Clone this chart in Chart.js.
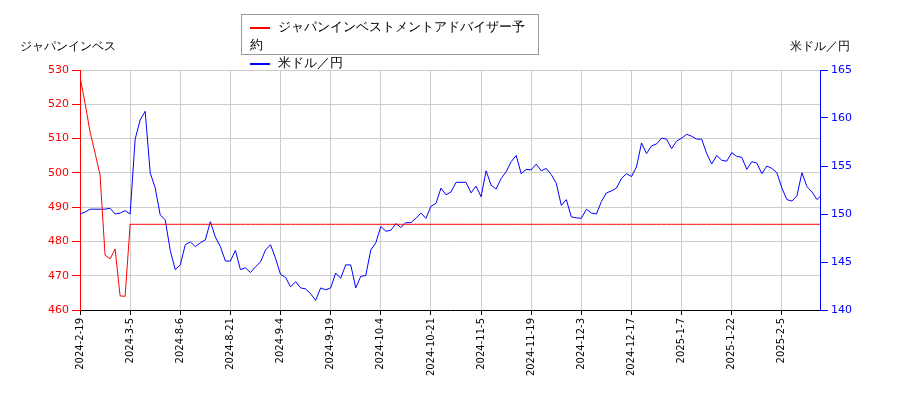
<!DOCTYPE html>
<html><head><meta charset="utf-8">
<script src="https://cdn.jsdelivr.net/npm/chart.js@4"></script>
<style>
body{margin:0;background:#fff;font-family:"DejaVu Sans",sans-serif;}
#wrap{position:relative;width:900px;height:400px;}
#leg{position:absolute;left:241px;top:14px;width:298px;height:41px;border:1px solid #999;background:#fff;font-size:12.5px;box-sizing:border-box;padding:3px 8px;line-height:18px;}
#leg span.l{display:inline-block;width:20px;height:2px;vertical-align:middle;margin-right:8px;}
.t{position:absolute;top:38px;font-size:12px;}
</style></head><body>
<div id="wrap"><canvas id="c" width="900" height="400"></canvas>
<div id="leg"><div><span class="l" style="background:#f00"></span>ジャパンインベストメントアドバイザー予約</div><div><span class="l" style="background:#00f"></span>米ドル／円</div></div>
<div class="t" style="left:20px">ジャパンインベス</div>
<div class="t" style="left:790px">米ドル／円</div>
</div>
<script>
const tickLabels=["2024-2-19","2024-3-5","2024-8-6","2024-8-21","2024-9-4","2024-9-19","2024-10-4","2024-10-21","2024-11-5","2024-11-19","2024-12-3","2024-12-17","2025-1-7","2025-1-22","2025-2-5"];
const stockValues=[528,520.4,512,505.8,499.4,476,474.9,477.8,464.1,464,485];
const usdJpy=[150.0,150.2,150.5,150.5,150.5,150.5,150.6,150.0,150.1,150.35,150.0,157.8,159.8,160.7,154.3,152.7,149.9,149.4,146.2,144.2,
144.7,146.8,147.1,146.6,147.0,147.3,149.2,147.6,146.6,145.1,145.1,146.2,144.2,144.4,143.9,144.5,145.0,146.25,146.8,145.4,
143.7,143.4,142.4,142.95,142.3,142.2,141.7,141.0,142.3,142.1,142.3,143.85,143.3,144.7,144.7,142.3,143.5,143.6,146.25,147.0,
148.7,148.2,148.3,149.0,148.6,149.1,149.1,149.55,150.1,149.55,150.8,151.1,152.7,152.0,152.3,153.3,153.3,153.3,152.2,152.9,
151.8,154.5,153.0,152.6,153.7,154.4,155.45,156.1,154.2,154.65,154.6,155.2,154.5,154.75,154.1,153.2,150.9,151.5,149.7,149.6,
149.55,150.5,150.1,150.0,151.3,152.2,152.4,152.7,153.7,154.2,153.9,154.9,157.4,156.3,157.1,157.3,157.9,157.8,156.8,157.6,
157.9,158.3,158.1,157.8,157.8,156.3,155.2,156.1,155.6,155.5,156.4,156.0,155.9,154.65,155.45,155.3,154.2,155.0,154.75,154.3,
152.7,151.5,151.35,151.9,154.3,152.85,152.3,151.5,152.0];
const stockFlat=485;
const stockData=usdJpy.map((_,i)=>({x:i,y:i<stockValues.length?stockValues[i]:stockFlat}));
const fxData=usdJpy.map((v,i)=>({x:i,y:v}));
new Chart(document.getElementById('c'),{
type:'line',
data:{datasets:[
{data:stockData,borderColor:'#f00',borderWidth:1,pointRadius:0,yAxisID:'y',tension:0},
{data:fxData,borderColor:'#00f',borderWidth:1,pointRadius:0,yAxisID:'y1',tension:0}]},
options:{responsive:false,animation:false,
layout:{padding:{top:70,right:0,left:0,bottom:0}},
plugins:{legend:{display:false},tooltip:{enabled:false}},
scales:{
x:{type:'linear',min:0,max:147.6,
 afterFit:s=>{s.height=90;},
 afterBuildTicks:s=>{s.ticks=tickLabels.map((_,i)=>({value:i*10}));},
 ticks:{autoSkip:false,maxRotation:90,minRotation:90,font:{size:10,family:'DejaVu Sans'},color:'#000',callback:(v)=>tickLabels[Math.round(v/10)]},
 grid:{color:'#ccc',tickLength:5,tickColor:'#000'},border:{color:'#000'}},
y:{position:'left',min:460,max:530,afterFit:s=>{s.width=80;},
 ticks:{stepSize:10,color:'#f00',font:{size:11,family:'DejaVu Sans'}},
 grid:{color:'#ccc',tickColor:'#f00'},border:{color:'#f00'}},
y1:{position:'right',min:140,max:165,afterFit:s=>{s.width=80;},
 ticks:{stepSize:5,color:'#00f',font:{size:11,family:'DejaVu Sans'}},
 grid:{drawOnChartArea:false,tickColor:'#00f'},border:{color:'#00f'}}
}}});
</script></body></html>
